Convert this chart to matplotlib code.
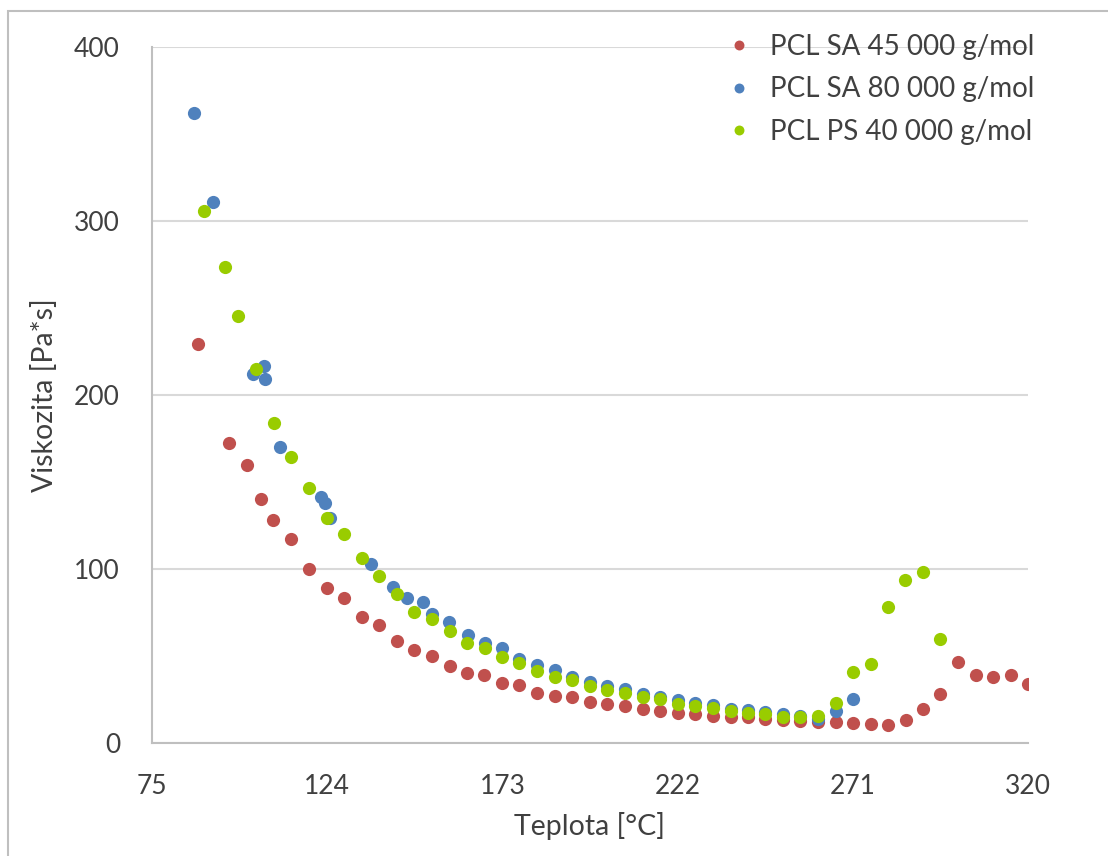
import matplotlib
matplotlib.use("Agg")
import matplotlib.pyplot as plt
from matplotlib.patches import Rectangle

plt.rcParams['font.family'] = ['Lato', 'DejaVu Sans']

# PCL SA 45 000 g/mol
x_sa45 = [87.9, 96.5, 101.6, 105.6, 108.8, 114.0, 119.0, 123.9, 128.8, 133.6, 138.5, 143.4,
          148.4, 153.3, 158.3, 163.1, 167.9, 172.9, 177.7, 182.7, 187.6, 192.5, 197.5, 202.3,
          207.3, 212.2, 217.1, 222.0, 226.9, 231.9, 236.9, 241.6, 246.4, 251.4, 256.3, 261.3,
          266.2, 271.1, 276.0, 280.8, 285.8, 290.6, 295.5, 300.5, 305.5, 310.3, 315.2, 320.1]
y_sa45 = [229.1, 172.6, 159.8, 140.1, 128.0, 117.1, 100.1, 89.1, 83.2, 72.2, 67.8, 58.4,
          53.4, 50.2, 44.3, 40.2, 38.9, 34.7, 33.3, 28.9, 27.2, 26.4, 23.6, 22.2,
          21.4, 19.4, 18.4, 17.1, 16.5, 15.7, 14.8, 14.8, 13.8, 13.2, 12.8, 12.2,
          11.9, 11.7, 10.9, 10.5, 13.0, 19.7, 28.2, 46.6, 39.3, 37.8, 38.9, 34.1]

# PCL SA 80 000 g/mol
x_sa80 = [86.7, 92.1, 103.3, 106.4, 106.5, 110.9, 122.3, 123.4, 124.9, 136.3, 142.3, 146.4,
          150.7, 153.2, 158.2, 163.3, 168.1, 172.9, 177.7, 182.7, 187.6, 192.5, 197.5, 202.3,
          207.3, 212.2, 217.1, 222.0, 226.9, 231.9, 236.9, 241.6, 246.4, 251.4, 256.3, 261.3,
          266.2, 271.1]
y_sa80 = [361.9, 311.1, 212.1, 216.5, 209.0, 170.3, 141.6, 138.1, 129.5, 102.9, 89.4, 83.2,
          80.9, 74.1, 69.4, 61.9, 57.3, 54.4, 48.1, 44.7, 42.0, 38.1, 35.2, 32.5,
          31.0, 28.3, 26.4, 24.7, 23.2, 21.8, 19.5, 18.7, 17.8, 16.4, 15.5, 13.8,
          18.6, 25.1]

# PCL PS 40 000 g/mol
x_ps40 = [89.5, 95.5, 99.1, 104.1, 109.2, 114.0, 118.9, 123.9, 128.7, 133.7, 138.5, 143.4,
          148.4, 153.4, 158.3, 163.2, 168.1, 172.9, 177.7, 182.7, 187.6, 192.5, 197.5, 202.3,
          207.3, 212.2, 217.1, 222.0, 226.9, 231.9, 236.9, 241.6, 246.4, 251.4, 256.3, 261.3,
          266.2, 271.1, 276.0, 280.8, 285.7, 290.6, 295.5]
y_ps40 = [305.6, 273.7, 245.2, 215.1, 183.7, 164.2, 146.4, 129.1, 119.9, 106.1, 95.7, 85.6,
          75.5, 71.4, 64.5, 57.3, 54.8, 49.6, 46.1, 41.6, 37.9, 36.0, 32.9, 30.5,
          28.9, 26.3, 25.3, 22.4, 21.3, 20.3, 18.4, 17.4, 16.7, 15.1, 14.8, 15.7,
          22.8, 41.0, 45.6, 78.0, 93.9, 98.1, 59.6]

labels = ['PCL SA 45 000 g/mol', 'PCL SA 80 000 g/mol', 'PCL PS 40 000 g/mol']
colors = ['#C0504D', '#4F81BD', '#99CC00']
xticks = [75, 124, 173, 222, 271, 320]
yticks = [0, 100, 200, 300, 400]

txt = '#404040'
fig = plt.figure(figsize=(11.08, 8.56), dpi=100)
ax = fig.add_axes([152/1108, 1-743/856, 876/1108, 696/856])

for xs, ys, c, lab in zip([x_sa45, x_sa80, x_ps40], [y_sa45, y_sa80, y_ps40], colors, labels):
    ax.plot(xs, ys, 'o', color=c, ms=9.5, mew=0, label=lab, zorder=3)

ax.set_xlim(75, 320)
ax.set_ylim(0, 400)
ax.set_xticks(xticks)
ax.set_yticks(yticks)
ax.grid(axis='y', color='#D9D9D9', lw=1.5, zorder=0)
for s in ['top', 'right']:
    ax.spines[s].set_visible(False)
for s in ['left', 'bottom']:
    ax.spines[s].set_color('#BFBFBF')
    ax.spines[s].set_linewidth(1.5)
ax.tick_params(length=0, labelsize=19, labelcolor=txt)
ax.tick_params(axis='y', pad=23)
ax.tick_params(axis='x', pad=22)
ax.set_xlabel('Teplota [°C]', fontsize=20.5, color=txt, labelpad=10)
ax.set_ylabel('Viskozita [Pa*s]', fontsize=20.5, color=txt, labelpad=12)

leg = ax.legend(loc='upper right', bbox_to_anchor=(1.02, 1.035), frameon=False,
                fontsize=20, markerscale=0.75, handletextpad=0.1, labelspacing=0.6,
                borderaxespad=0)
for t in leg.get_texts():
    t.set_color(txt)

fig.patches.append(Rectangle((8/1108, -0.1), 1.2, 1-11/856 + 0.1, transform=fig.transFigure,
                             fill=False, edgecolor='#BFBFBF', lw=1.5))

fig.savefig('out.png', dpi=100)
